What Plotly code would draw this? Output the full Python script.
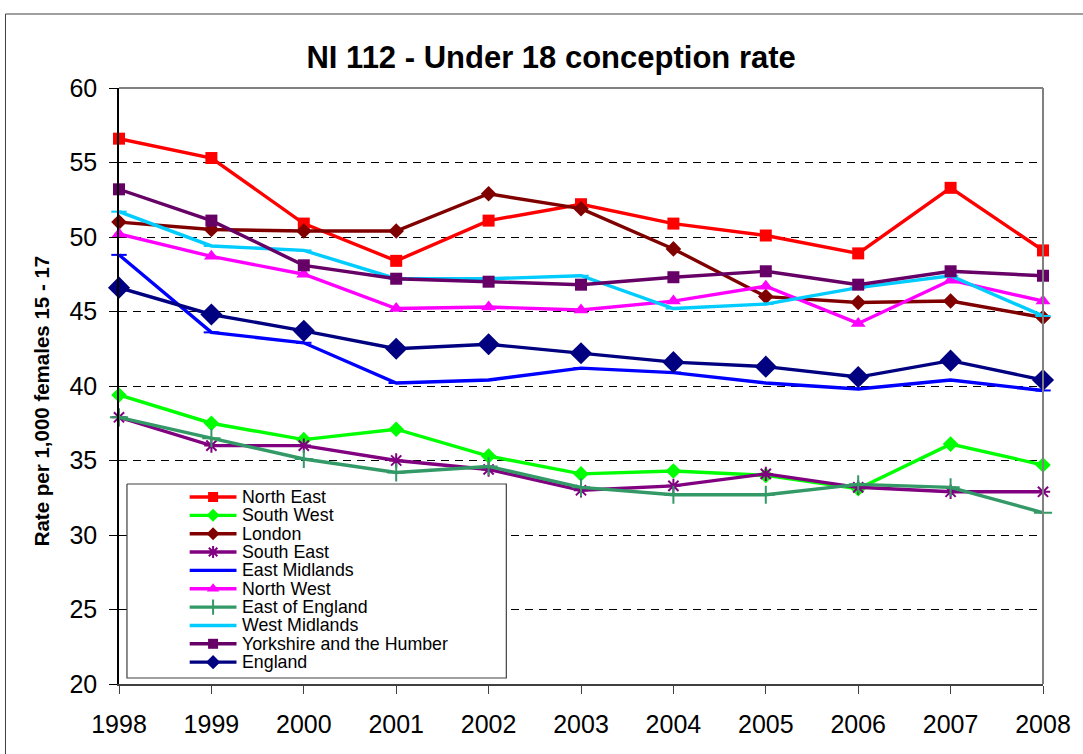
import plotly.graph_objects as go

years = [1998, 1999, 2000, 2001, 2002, 2003, 2004, 2005, 2006, 2007, 2008]
north_east = [56.6, 55.3, 50.9, 48.4, 51.1, 52.2, 50.9, 50.1, 48.9, 53.3, 49.1]
south_west = [39.4, 37.5, 36.4, 37.1, 35.3, 34.1, 34.3, 34.0, 33.1, 36.1, 34.7]
london = [51.0, 50.5, 50.4, 50.4, 52.9, 51.9, 49.2, 46.0, 45.6, 45.7, 44.6]
south_east = [37.9, 36.0, 36.0, 35.0, 34.4, 33.0, 33.3, 34.1, 33.2, 32.9, 32.9]
east_midlands = [48.8, 43.6, 42.9, 40.2, 40.4, 41.2, 40.9, 40.2, 39.8, 40.4, 39.7]
north_west = [50.2, 48.7, 47.5, 45.2, 45.3, 45.1, 45.7, 46.7, 44.2, 47.1, 45.7]
east_of_england = [37.9, 36.5, 35.1, 34.2, 34.6, 33.2, 32.7, 32.7, 33.4, 33.2, 31.5]
west_midlands = [51.7, 49.4, 49.1, 47.2, 47.2, 47.4, 45.2, 45.5, 46.6, 47.4, 44.7]
yorkshire = [53.2, 51.1, 48.1, 47.2, 47.0, 46.8, 47.3, 47.7, 46.8, 47.7, 47.4]
england = [46.6, 44.8, 43.7, 42.5, 42.8, 42.2, 41.6, 41.3, 40.6, 41.7, 40.4]

series_names = ["North East", "South West", "London", "South East", "East Midlands",
                "North West", "East of England", "West Midlands",
                "Yorkshire and the Humber", "England"]
series_values = [north_east, south_west, london, south_east, east_midlands,
                 north_west, east_of_england, west_midlands, yorkshire, england]
series_colors = ["#FF0000", "#00FF00", "#800000", "#800080", "#0000FF",
                 "#FF00FF", "#339966", "#00CCFF", "#660066", "#000080"]
series_symbols = ["square", "diamond", "diamond", "asterisk-open", "line-ew-open",
                  "triangle-up", "cross-thin-open", "line-ew-open", "square", "diamond"]
marker_sizes = [12, 12, 12, 12, 11, 13, 13, 11, 12, 17]
legend_sizes = [10, 10, 10, 10, 10, 11, 11, 10, 10, 11]

FONT = "Liberation Sans, Arial, sans-serif"

W, H = 1083, 754
L, R, T, B = 119, 1047, 88, 684
pw, ph = R - L, B - T

# legend layout (pixel space)
LEG_X0, LEG_X1, LEG_Y_TOP, LEG_Y_BOT = 127, 508, 484, 678
LEG_KEY_X0, LEG_KEY_X1, LEG_TEXT_X = 190, 237, 241
LEG_Y0, LEG_STEP = 497, 18.35


def px(x):
    return (x - L) / pw


def py(y):
    return (B - y) / ph


def open_w(sym):
    return 2 if "open" in sym else 0


fig = go.Figure()
for name, vals, color, sym, size in zip(series_names, series_values, series_colors,
                                         series_symbols, marker_sizes):
    fig.add_trace(go.Scatter(
        x=years, y=vals, name=name, mode="lines+markers", showlegend=False,
        line=dict(color=color, width=3.4), cliponaxis=False,
        marker=dict(symbol=sym, size=size, color=color,
                    line=dict(color=color, width=open_w(sym))),
    ))

# legend box as a filled trace in the pixel-space overlay axes
fig.add_trace(go.Scatter(
    x=[LEG_X0, LEG_X1, LEG_X1, LEG_X0, LEG_X0],
    y=[LEG_Y_TOP, LEG_Y_TOP, LEG_Y_BOT, LEG_Y_BOT, LEG_Y_TOP],
    xaxis="x2", yaxis="y2", mode="lines", fill="toself", fillcolor="white",
    line=dict(color="#404040", width=1.2), showlegend=False, hoverinfo="skip",
    cliponaxis=False))

annotations = []
for i, (name, color, sym, size) in enumerate(zip(series_names, series_colors,
                                                  series_symbols, legend_sizes)):
    yy = LEG_Y0 + i * LEG_STEP
    xm = (LEG_KEY_X0 + LEG_KEY_X1) / 2
    fig.add_trace(go.Scatter(
        x=[LEG_KEY_X0, LEG_KEY_X1], y=[yy, yy], xaxis="x2", yaxis="y2",
        mode="lines", line=dict(color=color, width=3.4), showlegend=False,
        hoverinfo="skip", cliponaxis=False))
    fig.add_trace(go.Scatter(
        x=[xm], y=[yy], xaxis="x2", yaxis="y2", mode="markers", showlegend=False,
        marker=dict(symbol=sym, size=size, color=color,
                    line=dict(color=color, width=open_w(sym))),
        hoverinfo="skip", cliponaxis=False))
    annotations.append(dict(x=LEG_TEXT_X, y=yy, xref="x2", yref="y2", text=name,
                            showarrow=False, xanchor="left", yanchor="middle",
                            font=dict(size=17.8, family=FONT, color="black")))

# y-axis title
annotations.append(dict(text="<b>Rate per 1,000 females 15 - 17</b>", textangle=-90,
                        x=px(42), y=py(401), xref="paper", yref="paper",
                        xanchor="center", yanchor="middle", showarrow=False,
                        font=dict(size=20.5, family=FONT, color="black")))

shapes = [
    dict(type="rect", xref="paper", yref="paper", x0=px(5), x1=px(1100), y0=py(770), y1=py(14),
         line=dict(color="#404040", width=1), layer="below"),
    dict(type="line", xref="paper", yref="paper", x0=0, x1=1, y0=1, y1=1,
         line=dict(color="#808080", width=2)),
    dict(type="line", xref="paper", yref="paper", x0=1, x1=1, y0=0, y1=1,
         line=dict(color="#808080", width=2)),
]

fig.update_layout(
    width=W, height=H,
    margin=dict(l=L, r=W - R, t=T, b=H - B, pad=0),
    paper_bgcolor="white", plot_bgcolor="white",
    font=dict(family=FONT, color="black"),
    title=dict(text="<b>NI 112 - Under 18 conception rate</b>", x=px(553), xref="paper",
               xanchor="center", y=1 - 57 / H, yref="container", yanchor="middle",
               font=dict(size=31, family=FONT, color="black")),
    xaxis=dict(range=[1998, 2008], tickmode="array", tickvals=years,
               ticktext=[str(y) for y in years], showgrid=False, zeroline=False,
               showline=True, linecolor="#404040", linewidth=2,
               ticks="outside", ticklen=8, tickcolor="#404040", tickwidth=1,
               ticklabelstandoff=9,
               tickfont=dict(size=25, family=FONT)),
    yaxis=dict(range=[20, 60], dtick=5, tick0=20, showgrid=True, gridcolor="black",
               griddash="8px,6px", gridwidth=1, zeroline=False,
               showline=True, linecolor="black", linewidth=1.5,
               ticks="outside", ticklen=8, tickcolor="black",
               ticklabelstandoff=7,
               tickfont=dict(size=25, family=FONT)),
    xaxis2=dict(range=[L, R], overlaying="x", visible=False, fixedrange=True),
    yaxis2=dict(range=[B, T], overlaying="y", visible=False, fixedrange=True),
    showlegend=False,
    shapes=shapes,
    annotations=annotations,
)

fig.write_html("out.html", config={"displayModeBar": False},
               post_script="document.body.style.margin='0px';")
